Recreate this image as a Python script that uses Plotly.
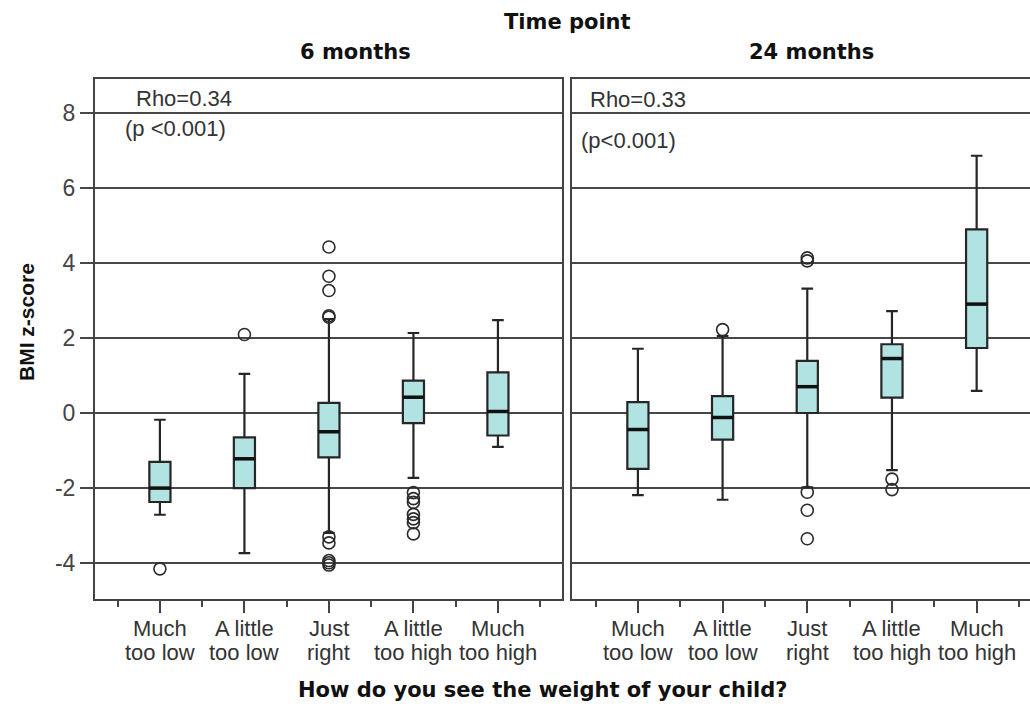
import plotly.graph_objects as go

# ---------------- data ----------------
categories = ["Much<br>too low", "A little<br>too low", "Just<br>right",
              "A little<br>too high", "Much<br>too high"]
panel_titles = ["6 months", "24 months"]
y_ticks = [-4, -2, 0, 2, 4, 6, 8]
y_tick_labels = ["-4", "-2", "0", "2", "4", "6", "8"]

m6_lower = [-2.71, -3.73, -3.19, -1.73, -0.90]
m6_q1 = [-2.37, -2.00, -1.18, -0.27, -0.60]
m6_median = [-2.00, -1.22, -0.50, 0.42, 0.04]
m6_q3 = [-1.30, -0.65, 0.27, 0.86, 1.08]
m6_upper = [-0.18, 1.04, 2.50, 2.13, 2.47]
m6_outliers = [[-4.15], [2.09],
               [4.42, 3.64, 3.26, 2.59, 2.55, -3.30, -3.46, -3.93, -3.99, -4.05],
               [-2.12, -2.28, -2.38, -2.70, -2.82, -2.92, -3.22], []]

m24_lower = [-2.19, -2.31, -1.98, -1.52, 0.59]
m24_q1 = [-1.49, -0.71, 0.00, 0.41, 1.73]
m24_median = [-0.44, -0.12, 0.70, 1.45, 2.90]
m24_q3 = [0.29, 0.45, 1.39, 1.83, 4.89]
m24_upper = [1.71, 2.05, 3.31, 2.71, 6.85]
m24_outliers = [[], [2.22], [4.13, 4.05, -2.11, -2.59, -3.35], [-1.76, -2.04], []]

rho_text = ["Rho=0.34", "Rho=0.33"]
p_text = ["(p <0.001)", "(p<0.001)"]
super_title = "Time point"
x_title = "How do you see the weight of your child?"
y_title = "BMI z-score"

# ---------------- styling ----------------
W, H = 1030, 706
ML, MR, MT, MB = 94, 0, 78, 106
PW, PH = W - ML - MR, H - MT - MB
REG = "Liberation Sans, Arial, sans-serif"
BOLD = "DejaVu Sans, Verdana, sans-serif"
GRID = "#474747"
BOXW = 0.25


def px(x):
    return (x - ML) / PW


def py(y):
    return (H - MB - y) / PH


idx = list(range(len(categories)))
panels = [
    dict(lo=m6_lower, q1=m6_q1, med=m6_median, q3=m6_q3, up=m6_upper, out=m6_outliers, xa="x", ya="y"),
    dict(lo=m24_lower, q1=m24_q1, med=m24_median, q3=m24_q3, up=m24_upper, out=m24_outliers, xa="x2", ya="y2"),
]

fig = go.Figure()
for p in panels:
    fig.add_trace(go.Box(
        x=idx, q1=p["q1"], median=p["med"], q3=p["q3"],
        lowerfence=p["lo"], upperfence=p["up"],
        width=BOXW, whiskerwidth=0.55, boxpoints=False,
        fillcolor="#b2e3e3", line=dict(color="#262626", width=2.2),
        xaxis=p["xa"], yaxis=p["ya"], hoverinfo="skip",
    ))
    mx, my = [], []
    for i, m in zip(idx, p["med"]):
        mx += [i - BOXW / 2, i + BOXW / 2, None]
        my += [m, m, None]
    fig.add_trace(go.Scatter(x=mx, y=my, mode="lines",
                             line=dict(color="#111111", width=3.5),
                             xaxis=p["xa"], yaxis=p["ya"], hoverinfo="skip"))
    ox, oy = [], []
    for i, vals in zip(idx, p["out"]):
        ox += [i] * len(vals)
        oy += vals
    fig.add_trace(go.Scatter(x=ox, y=oy, mode="markers",
                             marker=dict(symbol="circle-open", size=12,
                                         color="#2b2b2b", line=dict(width=1.6)),
                             xaxis=p["xa"], yaxis=p["ya"], hoverinfo="skip"))

xcommon = dict(
    tickmode="array", tickvals=idx, showticklabels=False,
    ticks="outside", ticklen=12, tickwidth=1.5, tickcolor="#444",
    minor=dict(tickmode="array", tickvals=[i - 0.5 for i in idx] + [idx[-1] + 0.5],
               ticks="outside", ticklen=6, tickwidth=1.5, tickcolor="#444", showgrid=False),
    showgrid=False, zeroline=False, showline=False, fixedrange=True,
)
ycommon = dict(
    range=[-4.98, 8.92], tickmode="array", tickvals=y_ticks, ticktext=y_tick_labels,
    showgrid=True, gridcolor=GRID, gridwidth=2, zeroline=False, showline=False,
)

fig.update_layout(
    width=W, height=H,
    margin=dict(l=ML, r=MR, t=MT, b=MB, autoexpand=False),
    paper_bgcolor="white", plot_bgcolor="white", showlegend=False,
    xaxis=dict(domain=[0, px(563)], range=[-0.78, 4.77], **xcommon),
    xaxis2=dict(domain=[px(571), 1.0], range=[-0.79, 4.63], anchor="y2", **xcommon),
    yaxis=dict(ticks="outside", ticklen=13, tickwidth=2, tickcolor=GRID,
               tickfont=dict(family=REG, size=23, color="#444"), **ycommon),
    yaxis2=dict(anchor="x2", matches="y", showticklabels=False, ticks="", **ycommon),
)

# panel borders
fig.add_shape(type="rect", xref="x domain", yref="y domain", x0=0, x1=1, y0=0, y1=1,
              line=dict(color="#444", width=2))
fig.add_shape(type="rect", xref="x2 domain", yref="y2 domain", x0=0, x1=1.02, y0=0, y1=1,
              line=dict(color="#444", width=2))

ann = []
# category labels (two lines, tight spacing)
for xa in ["x", "x2"]:
    for i, c in zip(idx, categories):
        l1, l2 = c.split("<br>")
        for txt, yy in [(l1, 628.5), (l2, 652)]:
            ann.append(dict(text=txt, x=i, xref=xa, y=py(yy), yref="paper",
                            xanchor="center", yanchor="middle", showarrow=False,
                            font=dict(family=REG, size=22, color="#333")))
# panel titles
for t, cx in zip(panel_titles, [355, 811]):
    ann.append(dict(text="<b>%s</b>" % t, x=px(cx), y=py(52.5), xref="paper", yref="paper",
                    xanchor="center", yanchor="middle", showarrow=False,
                    font=dict(family=BOLD, size=21, color="#111")))
ann.append(dict(text="<b>%s</b>" % super_title, x=px(567), y=py(21.5), xref="paper", yref="paper",
                xanchor="center", yanchor="middle", showarrow=False,
                font=dict(family=BOLD, size=21, color="#111")))
ann.append(dict(text="<b>%s</b>" % x_title, x=px(543), y=py(690), xref="paper", yref="paper",
                xanchor="center", yanchor="middle", showarrow=False,
                font=dict(family=BOLD, size=21, color="#111")))
ann.append(dict(text="<b>%s</b>" % y_title, x=px(26), y=py(322), xref="paper", yref="paper",
                xanchor="center", yanchor="middle", showarrow=False, textangle=-90,
                font=dict(family=REG, size=21, color="#111")))
# Rho / p annotations
for (rx, ry), (qx, qy), r, pt in zip([(134, 98.5), (588, 99)], [(123, 128.5), (579, 140)],
                                     rho_text, p_text):
    ann.append(dict(text=r, x=px(rx), y=py(ry), xref="paper", yref="paper",
                    xanchor="left", yanchor="middle", showarrow=False,
                    font=dict(family=REG, size=22, color="#333")))
    ann.append(dict(text=pt, x=px(qx), y=py(qy), xref="paper", yref="paper",
                    xanchor="left", yanchor="middle", showarrow=False,
                    font=dict(family=REG, size=22, color="#333")))
fig.update_layout(annotations=ann)

fig.write_html("out.html", config={"displayModeBar": False},
               post_script="document.body.style.margin='0';")
